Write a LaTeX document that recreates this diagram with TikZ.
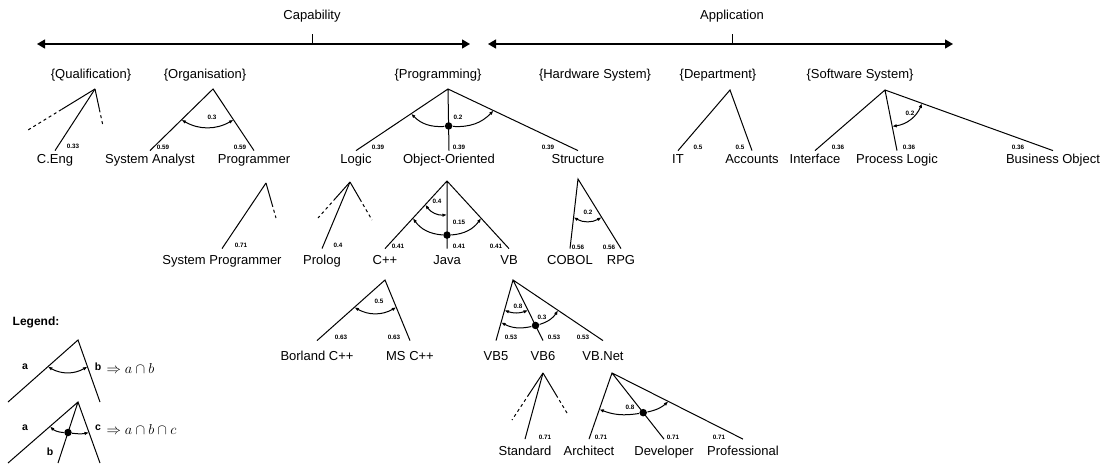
\documentclass[tikz,border=0pt]{standalone}
\usepackage{fontspec}
\setmainfont{Liberation Sans}
\usepackage{amsmath}
\usetikzlibrary{arrows.meta,calc}

\begin{document}
\begin{tikzpicture}[x=1pt,y=-1pt,line width=1pt,
  lbl/.style={inner xsep=1pt,inner ysep=3pt,text height=9.3pt,text depth=2.5pt,font=\fontsize{13}{15}\selectfont},
  r2/.style={lbl,inner ysep=6pt},
  r3/.style={lbl,inner ysep=10pt},
  r4/.style={lbl,inner ysep=6.5pt},
  wt/.style={inner sep=0pt,font=\fontsize{6.3}{7}\selectfont\bfseries},
  lg/.style={inner sep=0pt,font=\fontsize{10.5}{12}\selectfont\bfseries},
  rng/.style={line width=1.3pt,{Triangle[length=8pt,width=9pt]}-{Triangle[length=8pt,width=9pt]}},
  ov/.style={{Latex[length=4.5pt,width=3.5pt]}-{Latex[length=4.5pt,width=3.5pt]}},
  ov1/.style={-{Latex[length=4.5pt,width=3.5pt]}},
  more/.style={dash pattern=on 3pt off 3pt},
  jn/.style={circle,fill,inner sep=0pt,minimum size=7.5pt}]
\useasboundingbox (0,0) rectangle (1109,466);

\node[lbl] (cap) at (312,16) {Capability};
\node[lbl] (app) at (732,16) {Application};
\coordinate (capl) at (37,44); \coordinate (capr) at (470,44);
\coordinate (appl) at (488,44); \coordinate (appr) at (953,44);
\draw[rng] (capl) -- (capr);
\draw[rng] (appl) -- (appr);
\draw ([yshift=-9pt]cap.south) -- (cap.south |- capl);
\draw ([yshift=-9pt]app.south) -- (app.south |- appl);

\node[lbl] (qual) at (91,75) {\{Qualification\}};
\node[lbl] (org) at (205,75) {\{Organisation\}};
\node[lbl] (prog) at (438,75) {\{Programming\}};
\node[lbl] (hw) at (595,75) {\{Hardware System\}};
\node[lbl] (dept) at (718,75) {\{Department\}};
\node[lbl] (sw) at (860,75) {\{Software System\}};

\coordinate (qa) at (95,89);
\coordinate (ql) at (28,130); \coordinate (qr) at (103,126);
\node[lbl] (ceng) at (55,160) {C.Eng};
\draw (qa) -- (ceng.north);
\draw (qa) -- ($(qa)!.5!(ql)$) coordinate (qlm);
\draw[more] (qlm) -- (ql);
\draw (qa) -- ($(qa)!.55!(qr)$) coordinate (qrm);
\draw[more] (qrm) -- (qr);
\node[wt] (qw) at (73,146) {0.33};

\coordinate (oa) at (213,89);
\node[lbl] (sa) at (150,160) {System Analyst};
\node[lbl] (pgr) at (254,160) {Programmer};
\draw (sa.north) -- (oa) -- (pgr.north);
\draw[ov] ($(oa)!.5!(sa.north)$) to[bend right=30] ($(oa)!.5!(pgr.north)$);
\node[wt] (ow) at (212,117) {0.3};
\node[wt] (ow1) at (163,147) {0.59};
\node[wt] (ow2) at (240,147) {0.59};

\coordinate (pa) at (448,89);
\node[lbl] (logic) at (356,160) {Logic};
\node[lbl] (oo) at (449,160) {Object-Oriented};
\node[lbl] (st) at (578,160) {Structure};
\draw (logic.north) -- (pa) -- (st.north) (pa) -- (oo.north);
\node[jn] (pd) at ($(pa)!.6!(oo.north)$) {};
\draw[ov1] (pd) to[bend left=25] ($(pa)!.4!(logic.north)$);
\draw[ov1] (pd) to[bend right=25] ($(pa)!.35!(st.north)$);
\node[wt] (pw) at (458,117) {0.2};
\node[wt] (pw1) at (378,147) {0.39};
\node[wt] (pw2) at (459,147) {0.39};
\node[wt] (pw3) at (548,147) {0.39};

\coordinate (da) at (730,90);
\node[lbl] (it) at (678,160) {IT};
\node[lbl] (acc) at (752,160) {Accounts};
\draw (it.north) -- (da) -- (acc.north);
\node[wt] (dw1) at (698,147) {0.5};
\node[wt] (dw2) at (740,147) {0.5};

\coordinate (ssa) at (885,90);
\node[lbl] (ifc) at (815,160) {Interface};
\node[lbl] (pl) at (897,160) {Process Logic};
\node[lbl] (bo) at (1053,160) {Business Object};
\draw (ifc.north) -- (ssa) -- (bo.north) (ssa) -- (pl.north);
\draw[ov] ($(ssa)!.6!(pl.north)$) to[bend right=30] ($(ssa)!.22!(bo.north)$);
\node[wt] (sw0) at (910,113) {0.2};
\node[wt] (sw1) at (838,147) {0.36};
\node[wt] (sw2) at (909,147) {0.36};
\node[wt] (sw3) at (1018,147) {0.36};

\coordinate (ga) at (266,183);
\coordinate (gr) at (276,218);
\node[r2] (spg) at (222,261) {System Programmer};
\draw (ga) -- (spg.north);
\draw (ga) -- ($(ga)!.6!(gr)$) coordinate (grm);
\draw[more] (grm) -- (gr);
\node[wt] (gw) at (241,245) {0.71};

\coordinate (la) at (350,182);
\coordinate (ll) at (318,218); \coordinate (lr) at (372,220);
\node[r2] (plg) at (322,261) {Prolog};
\draw (la) -- (plg.north);
\draw (la) -- ($(la)!.45!(ll)$) coordinate (llm);
\draw[more] (llm) -- (ll);
\draw (la) -- ($(la)!.45!(lr)$) coordinate (lrm);
\draw[more] (lrm) -- (lr);
\node[wt] (lw) at (338,245) {0.4};

\coordinate (ooa) at (447,181);
\node[r2] (cpp) at (385,261) {C++};
\node[r2] (java) at (447,261) {Java};
\node[r2] (vb) at (509,261) {VB};
\draw (cpp.north) -- (ooa) -- (vb.north) (ooa) -- (java.north);
\draw[ov] ($(ooa)!.35!(cpp.north)$) to[bend right=30] ($(ooa)!.5!(java.north)$);
\node[jn] (ood) at ($(ooa)!.8!(java.north)$) {};
\draw[ov1] (ood) to[bend left=25] ($(ooa)!.55!(cpp.north)$);
\draw[ov1] (ood) to[bend right=25] ($(ooa)!.55!(vb.north)$);
\node[wt] (cw0) at (437,201) {0.4};
\node[wt] (cw4) at (459,222) {0.15};
\node[wt] (cw1) at (398,246) {0.41};
\node[wt] (cw2) at (459,246) {0.41};
\node[wt] (cw3) at (496,246) {0.41};

\coordinate (sta) at (578,179);
\node[r2] (cob) at (570,261) {COBOL};
\node[r2] (rpg) at (621,261) {RPG};
\draw (cob.north) -- (sta) -- (rpg.north);
\draw[ov] ($(sta)!.55!(cob.north)$) to[bend right=30] ($(sta)!.55!(rpg.north)$);
\node[wt] (tw0) at (588,212) {0.2};
\node[wt] (tw1) at (578,247) {0.56};
\node[wt] (tw2) at (609,247) {0.56};

\coordinate (ca) at (385,280);
\node[r3] (bor) at (317,357) {Borland C++};
\node[r3] (ms) at (410,357) {MS C++};
\draw (bor.north) -- (ca) -- (ms.north);
\draw[ov] ($(ca)!.45!(bor.north)$) to[bend right=30] ($(ca)!.45!(ms.north)$);
\node[wt] (bw0) at (379,301) {0.5};
\node[wt] (bw1) at (341,337) {0.63};
\node[wt] (bw2) at (394,337) {0.63};

\coordinate (va) at (513,280);
\node[r3] (vb5) at (496,357) {VB5};
\node[r3] (vb6) at (543,357) {VB6};
\node[r3] (vbn) at (603,357) {VB.Net};
\draw (vb5.north) -- (va) -- (vbn.north) (va) -- (vb6.north);
\draw[ov] ($(va)!.5!(vb5.north)$) to[bend right=20] ($(va)!.5!(vb6.north)$);
\node[jn] (vd) at ($(va)!.75!(vb6.north)$) {};
\draw[ov1] (vd) to[bend left=20] ($(va)!.7!(vb5.north)$);
\draw[ov1] (vd) to[bend right=20] ($(va)!.5!(vbn.north)$);
\node[wt] (vw0) at (518,306) {0.8};
\node[wt] (vw4) at (542,317) {0.3};
\node[wt] (vw1) at (511,337) {0.53};
\node[wt] (vw2) at (554,337) {0.53};
\node[wt] (vw3) at (583,337) {0.53};

\coordinate (xa) at (543,373);
\coordinate (xl) at (512,420); \coordinate (xr) at (567,413);
\node[r4] (std) at (525,452) {Standard};
\draw (xa) -- (std.north);
\draw (xa) -- ($(xa)!.45!(xl)$) coordinate (xlm);
\draw[more] (xlm) -- (xl);
\draw (xa) -- ($(xa)!.55!(xr)$) coordinate (xrm);
\draw[more] (xrm) -- (xr);
\node[wt] (xw) at (545,437) {0.71};

\coordinate (na) at (612,373);
\node[r4] (arch) at (589,452) {Architect};
\node[r4] (dev) at (664,452) {Developer};
\node[r4] (pro) at (743,452) {Professional};
\draw (arch.north) -- (na) -- (pro.north) (na) -- (dev.north);
\node[jn] (nd) at ($(na)!.6!(dev.north)$) {};
\draw[ov1] (nd) to[bend left=15] ($(na)!.55!(arch.north)$);
\draw[ov1] (nd) to[bend right=15] ($(na)!.43!(pro.north)$);
\node[wt] (nw0) at (630,407) {0.8};
\node[wt] (nw1) at (601,437) {0.71};
\node[wt] (nw2) at (673,437) {0.71};
\node[wt] (nw3) at (719,437) {0.71};

\node[inner sep=0pt,font=\fontsize{12}{14}\selectfont\bfseries] (leg) at (36,322) {Legend:};
\coordinate (g1a) at (78,340);
\coordinate (g1l) at (8,402); \coordinate (g1r) at (100,402);
\draw (g1l) -- (g1a) -- (g1r);
\draw[ov] ($(g1a)!.43!(g1l)$) to[bend right=30] ($(g1a)!.43!(g1r)$);
\node[lg] (g1x) at (25,367) {a};
\node[lg] (g1y) at (98,367) {b};
\node[anchor=west,inner sep=0pt,font=\fontsize{14}{16}\selectfont] (g1f) at (106,368) {$\Rightarrow a\cap b$};

\coordinate (g2a) at (78,402);
\coordinate (g2l) at (8,463); \coordinate (g2m) at (58,463); \coordinate (g2r) at (100,463);
\draw (g2l) -- (g2a) -- (g2r) (g2a) -- (g2m);
\node[jn] (g2d) at ($(g2a)!.5!(g2m)$) {};
\draw[ov1] (g2d) to[bend left=20] ($(g2a)!.4!(g2l)$);
\draw[ov1] (g2d) to[bend right=10] ($(g2a)!.5!(g2r)$);
\node[lg] (g2x) at (25,428) {a};
\node[lg] (g2z) at (98,428) {c};
\node[lg] (g2y) at (50,452) {b};
\node[anchor=west,inner sep=0pt,font=\fontsize{14}{16}\selectfont] (g2f) at (106,429) {$\Rightarrow a\cap b\cap c$};
\end{tikzpicture}
\end{document}
